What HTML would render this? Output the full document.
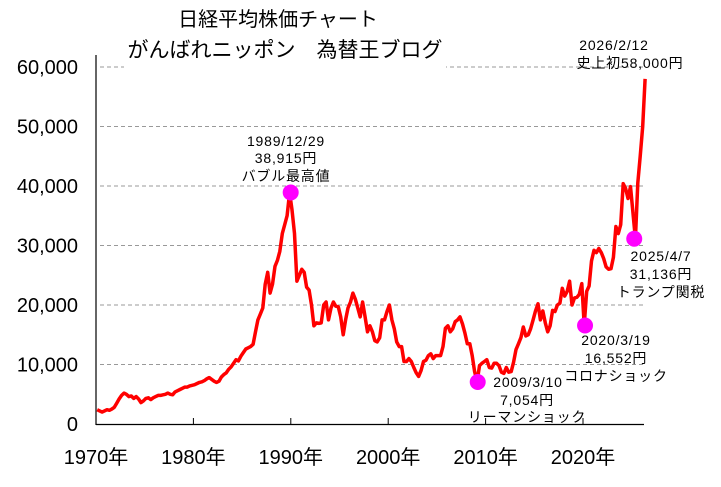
<!DOCTYPE html>
<html><head><meta charset="utf-8">
<style>
html,body{margin:0;padding:0;background:#fff;}
svg{display:block;font-family:"Liberation Sans","Noto Sans CJK JP",sans-serif;}
</style></head>
<body>
<svg id="chart" width="721" height="487" viewBox="0 0 721 487">
<g id="grid"></g>
<g id="yticks"></g>
<g id="xticks"></g>
<rect x="124" y="4" width="322" height="66" fill="#fff"/>
<text x="278" y="26" font-size="20" text-anchor="middle">日経平均株価チャート</text>
<text x="285" y="57" font-size="21" text-anchor="middle">がんばれニッポン　為替王ブログ</text>
<line x1="96" y1="55" x2="96" y2="425" stroke="#000" stroke-width="1.2"/>
<line x1="96" y1="424.5" x2="644" y2="424.5" stroke="#000" stroke-width="1.2"/>
<path id="line" fill="none" stroke="#ff0000" stroke-width="3.5" stroke-linejoin="round"/>
<g id="events"></g>
<g font-size="14" text-anchor="middle" fill="#000" style="letter-spacing:0.8px">
<text x="286" y="146">1989/12/29</text>
<text x="286" y="163">38,915円</text>
<text x="286" y="181">バブル最高値</text>
<text x="528" y="387">2009/3/10</text>
<text x="527" y="405">7,054円</text>
<text x="527" y="422">リーマンショック</text>
<text x="616" y="345">2020/3/19</text>
<text x="616" y="363">16,552円</text>
<text x="616" y="381">コロナショック</text>
<text x="661" y="261">2025/4/7</text>
<text x="661" y="279">31,136円</text>
<text x="661" y="297">トランプ関税</text>
<text x="614" y="50">2026/2/12</text>
<text x="630" y="68">史上初58,000円</text>
</g>
</svg>
<script>
const yTicks=[0,10000,20000,30000,40000,50000,60000];
const yTickLabels=["0","10,000","20,000","30,000","40,000","50,000","60,000"];
const xTicks=[1970,1980,1990,2000,2010,2020];
const xTickLabels=["1970年","1980年","1990年","2000年","2010年","2020年"];
const startYear=1970;
const quarterly=[
2.4,2.2,2.0,2.2, 2.4,2.3,2.5,2.8, 3.5,4.2,4.8,5.2, 5.0,4.6,4.7,4.3, 4.6,4.2,3.6,3.9,
4.3,4.4,4.1,4.4, 4.6,4.8,4.8,4.9, 5.0,5.2,5.0,4.9, 5.4,5.6,5.8,6.0, 6.2,6.2,6.4,6.5,
6.6,6.8,7.0,7.1, 7.3,7.6,7.8,7.5, 7.2,7.0,7.2,7.9, 8.3,8.6,9.2,9.6, 10.2,10.8,10.6,11.4,
12.0,12.6,12.8,13.0, 13.4,15.5,17.5,18.5, 19.5,23.5,25.5,22.0, 23.5,26.5,27.5,29.0, 32.0,33.5,35.0,38.9,
36.0,32.0,24.0,25.0, 26.0,25.5,23.0,22.5, 20.0,16.5,17.0,16.9, 17.0,20.0,20.5,17.5, 19.5,20.5,19.8,19.7,
18.0,15.0,17.5,19.5, 20.5,22.0,21.0,19.5, 18.0,20.5,18.0,15.5, 16.5,15.5,14.0,13.8, 14.5,17.5,17.5,18.9,
20.0,17.5,16.0,13.8, 13.0,13.0,10.5,10.5, 11.0,10.5,9.5,8.6, 8.0,9.0,10.5,10.7, 11.5,11.8,11.0,11.5,
11.5,11.5,13.0,16.1, 16.5,15.5,16.0,17.2, 17.5,18.0,16.8,15.3, 13.5,13.5,11.5,8.8, 7.1,9.8,10.2,10.5,
10.8,9.5,9.4,10.2, 10.2,9.8,8.7,8.5, 9.5,8.7,8.8,10.4, 12.5,13.5,14.5,16.3, 14.8,15.0,16.0,17.5,
19.0,20.2,17.5,19.0, 17.0,15.5,16.5,19.1, 18.9,20.0,20.3,22.8, 21.5,22.3,24.0,20.0, 21.2,21.3,21.8,23.6,
16.6,22.3,23.2,27.4, 29.2,28.8,29.5,28.8, 27.8,26.4,26.0,26.1, 28.0,33.2,32.0,33.5, 40.4,39.6,37.9,39.9,
35.6,31.1,40.5,45.0, 50.0,58.0];
const eventDates=[1989.99,2009.19,2020.21,2025.26];
const eventValues=[38915,7054,16552,31136];

const X0=96,XPD=9.74,Y0=424,YP=5.95/1000;
function xs(y){return X0+(y-1970)*XPD;}
function ys(v){return Y0-v*YP;}
const NS="http://www.w3.org/2000/svg";
const grid=document.getElementById('grid'),yt=document.getElementById('yticks'),xt=document.getElementById('xticks');
yTicks.forEach((t,i)=>{
  if(t>0){const l=document.createElementNS(NS,'line');
  l.setAttribute('x1',100);l.setAttribute('x2',643);l.setAttribute('y1',ys(t));l.setAttribute('y2',ys(t));
  l.setAttribute('stroke','#999');l.setAttribute('stroke-dasharray','4,3');
  
  
  grid.appendChild(l);}
  const tx=document.createElementNS(NS,'text');
  tx.setAttribute('x',78);tx.setAttribute('y',ys(t)+7);tx.setAttribute('text-anchor','end');tx.setAttribute('font-size','20');
  tx.textContent=yTickLabels[i];
  
  
  yt.appendChild(tx);
});
xTicks.forEach((t,i)=>{
  const l=document.createElementNS(NS,'line');
  l.setAttribute('x1',xs(t));l.setAttribute('x2',xs(t));l.setAttribute('y1',418);l.setAttribute('y2',424);l.setAttribute('stroke','#000');
  
  
  xt.appendChild(l);
  const tx=document.createElementNS(NS,'text');
  tx.setAttribute('x',xs(t));tx.setAttribute('y',464);tx.setAttribute('text-anchor','middle');tx.setAttribute('font-size','20');
  tx.textContent=xTickLabels[i];
  
  
  xt.appendChild(tx);
});
let d='';
quarterly.forEach((v,i)=>{const yr=startYear+i/4+0.125;d+=(i?'L':'M')+xs(yr).toFixed(1)+','+ys(v*1000).toFixed(1);});
document.getElementById('line').setAttribute('d',d);
const ev=document.getElementById('events');
eventDates.forEach((t,i)=>{
  const c=document.createElementNS(NS,'circle');
  c.setAttribute('cx',xs(t));c.setAttribute('cy',ys(eventValues[i]));c.setAttribute('r',8);c.setAttribute('fill','#ff00ff');
  
  
  ev.appendChild(c);
});
</script>
</body></html>
